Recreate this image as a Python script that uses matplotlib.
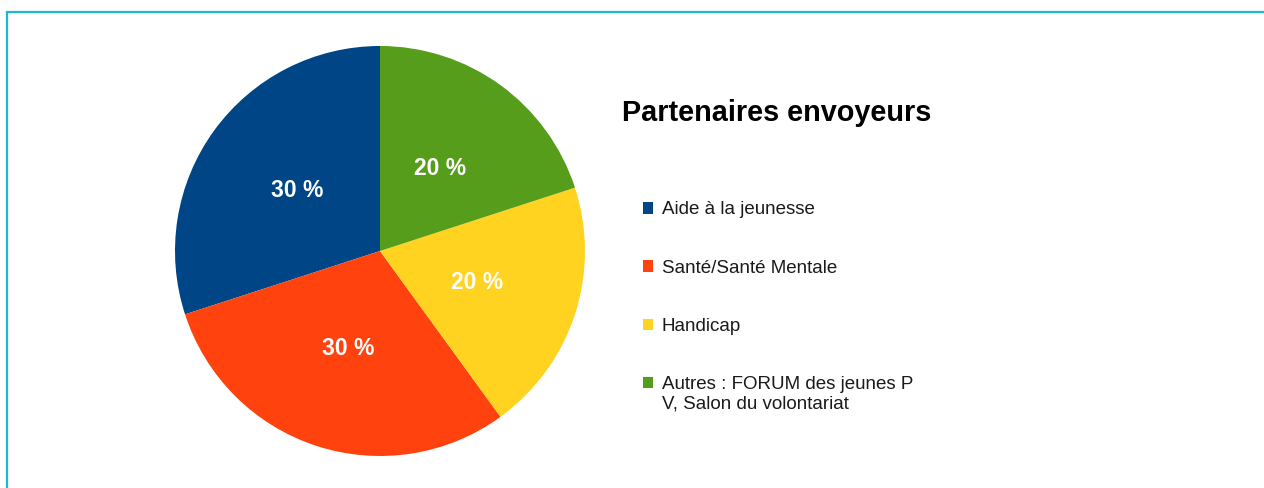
import matplotlib.pyplot as plt
from matplotlib.patches import Rectangle, Patch

categories = ['Aide à la jeunesse', 'Santé/Santé Mentale', 'Handicap',
              'Autres : FORUM des jeunes P\nV, Salon du volontariat']
values = [30, 30, 20, 20]
colors = ['#004586', '#ff420e', '#ffd320', '#579d1c']

plt.rcParams['font.family'] = ['Liberation Sans', 'DejaVu Sans']

W, H = 1264, 488
fig = plt.figure(figsize=(W / 100, H / 100), dpi=100)

# outer frame (cyan line, runs off the right and bottom edges)
fig.patches.append(Rectangle((7 / W, -0.2), 1.2, (H - 12) / H + 0.2,
                             transform=fig.transFigure, fill=False,
                             edgecolor='#1ab9d6', linewidth=1.6))

# pie
cx, cy, r = 380, H - 251, 205
ax = fig.add_axes([(cx - r) / W, (cy - r) / H, 2 * r / W, 2 * r / H])
wedges, texts, autotexts = ax.pie(values, colors=colors, startangle=90,
                                  counterclock=True, radius=1,
                                  autopct=lambda p: f'{p:.0f} %',
                                  pctdistance=0.5,
                                  textprops=dict(color='white', fontsize=16.5,
                                                 fontweight='bold'))
ax.set_xlim(-1, 1)
ax.set_ylim(-1, 1)
ax.axis('off')

fig.text(622 / W, 1 - 113 / H, 'Partenaires envoyeurs', fontsize=20.8,
         fontweight='bold', color='black', va='center', ha='left')

handles = [Patch(facecolor=c, edgecolor='none') for c in colors]
leg = fig.legend(handles, categories, loc='upper left',
                 bbox_to_anchor=(643 / W, 1 - 201.5 / H), frameon=False,
                 fontsize=13.5, handlelength=0.55, handleheight=0.55,
                 handletextpad=0.45, labelspacing=2.2, borderpad=0,
                 borderaxespad=0)
for t in leg.get_texts():
    t.set_color('#1a1a1a')
    t.set_linespacing(1.17)
# two-line entry: marker sits next to the first line
last = leg.legend_handles[-1]
last.set_y(last.get_y() + 8.5)

fig.savefig('out.png', dpi=100)
